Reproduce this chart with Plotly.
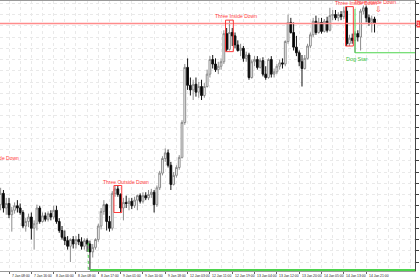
import plotly.graph_objects as go

# ---------------- data (H1 candles) ----------------
open_ = [
1.3051,1.3061,1.3048,1.3052,1.3042,1.3046,1.3050,1.3048,1.3044,1.3032,
1.3036,1.3040,1.3030,1.3034,1.3048,1.3036,1.3041,1.3038,1.3043,1.3040,
1.3046,1.3036,1.3028,1.3022,1.3019,1.3014,1.3020,1.3016,1.3020,1.3018,
1.3014,1.3019,1.3016,1.3009,1.3013,1.3020,1.3032,1.3045,1.3051,1.3036,
1.3030,1.3061,1.3065,1.3060,1.3048,1.3053,1.3052,1.3054,1.3050,1.3055,
1.3059,1.3054,1.3059,1.3057,1.3060,1.3062,1.3051,1.3066,1.3079,1.3092,
1.3097,1.3086,1.3069,1.3077,1.3084,1.3093,1.3124,1.3173,1.3157,1.3153,
1.3158,1.3151,1.3156,1.3148,1.3156,1.3167,1.3180,1.3176,1.3171,1.3174,
1.3178,1.3203,1.3189,1.3204,1.3201,1.3193,1.3188,1.3190,1.3181,1.3184,
1.3164,1.3178,1.3180,1.3173,1.3179,1.3167,1.3164,1.3180,1.3167,1.3169,
1.3174,1.3177,1.3176,1.3196,1.3213,1.3204,1.3191,1.3186,1.3178,1.3172,
1.3181,1.3192,1.3202,1.3214,1.3204,1.3213,1.3205,1.3214,1.3206,1.3219,
1.3220,1.3217,1.3220,1.3218,1.3223,1.3194,1.3199,1.3197,1.3203,1.3200,
1.3223,1.3226,1.3217,1.3213,1.3216]

high = [
1.3066,1.3064,1.3057,1.3057,1.3049,1.3053,1.3055,1.3052,1.3046,1.3039,
1.3043,1.3044,1.3037,1.3051,1.3050,1.3044,1.3044,1.3045,1.3046,1.3050,
1.3050,1.3039,1.3032,1.3028,1.3023,1.3021,1.3023,1.3023,1.3025,1.3022,
1.3021,1.3021,1.3019,1.3016,1.3021,1.3034,1.3048,1.3055,1.3052,1.3041,
1.3063,1.3068,1.3068,1.3061,1.3057,1.3059,1.3057,1.3057,1.3058,1.3060,
1.3061,1.3062,1.3062,1.3064,1.3065,1.3064,1.3068,1.3081,1.3094,1.3101,
1.3100,1.3089,1.3080,1.3086,1.3095,1.3126,1.3176,1.3181,1.3164,1.3162,
1.3164,1.3160,1.3162,1.3159,1.3171,1.3183,1.3184,1.3181,1.3178,1.3181,
1.3206,1.3208,1.3215,1.3208,1.3204,1.3197,1.3194,1.3192,1.3187,1.3186,
1.3180,1.3183,1.3183,1.3181,1.3182,1.3174,1.3181,1.3183,1.3172,1.3176,
1.3180,1.3181,1.3197,1.3220,1.3217,1.3213,1.3201,1.3188,1.3184,1.3184,
1.3194,1.3204,1.3217,1.3219,1.3217,1.3217,1.3216,1.3218,1.3226,1.3224,
1.3224,1.3222,1.3223,1.3227,1.3227,1.3202,1.3203,1.3205,1.3206,1.3225,
1.3228,1.3228,1.3220,1.3219,1.3218]

low = [
1.3046,1.3044,1.3042,1.3039,1.3027,1.3043,1.3044,1.3042,1.3030,1.3027,
1.3031,1.3020,1.3011,1.3028,1.3034,1.3035,1.3036,1.3036,1.3037,1.3038,
1.3034,1.3026,1.3020,1.3015,1.3011,1.3000,1.3012,1.3012,1.3015,1.3011,
1.3011,1.3009,1.2993,1.3004,1.3011,1.3018,1.3029,1.3042,1.3028,1.3027,
1.3028,1.3058,1.3058,1.3044,1.3037,1.3048,1.3046,1.3047,1.3048,1.3046,
1.3052,1.3052,1.3055,1.3055,1.3057,1.3044,1.3049,1.3064,1.3077,1.3089,
1.3084,1.3064,1.3068,1.3075,1.3082,1.3092,1.3122,1.3153,1.3148,1.3144,
1.3147,1.3146,1.3144,1.3146,1.3155,1.3164,1.3172,1.3169,1.3167,1.3171,
1.3176,1.3187,1.3188,1.3192,1.3190,1.3187,1.3183,1.3178,1.3178,1.3162,
1.3163,1.3174,1.3171,1.3172,1.3165,1.3162,1.3163,1.3164,1.3164,1.3167,
1.3171,1.3172,1.3174,1.3194,1.3203,1.3188,1.3183,1.3174,1.3156,1.3171,
1.3180,1.3190,1.3200,1.3202,1.3203,1.3203,1.3204,1.3204,1.3205,1.3215,
1.3215,1.3214,1.3215,1.3216,1.3192,1.3192,1.3194,1.3186,1.3196,1.3188,
1.3220,1.3213,1.3210,1.3204,1.3204]

close = [
1.3061,1.3048,1.3052,1.3042,1.3046,1.3050,1.3048,1.3044,1.3032,1.3036,
1.3040,1.3030,1.3034,1.3048,1.3036,1.3041,1.3038,1.3043,1.3040,1.3046,
1.3036,1.3028,1.3022,1.3019,1.3014,1.3020,1.3016,1.3020,1.3018,1.3014,
1.3019,1.3016,1.3009,1.3013,1.3020,1.3032,1.3045,1.3051,1.3036,1.3030,
1.3061,1.3065,1.3060,1.3048,1.3053,1.3052,1.3054,1.3050,1.3055,1.3059,
1.3054,1.3059,1.3057,1.3060,1.3062,1.3051,1.3066,1.3079,1.3092,1.3097,
1.3086,1.3069,1.3077,1.3084,1.3093,1.3124,1.3173,1.3157,1.3153,1.3158,
1.3151,1.3156,1.3148,1.3156,1.3167,1.3180,1.3176,1.3171,1.3174,1.3178,
1.3203,1.3189,1.3204,1.3201,1.3193,1.3188,1.3190,1.3181,1.3184,1.3164,
1.3178,1.3180,1.3173,1.3179,1.3167,1.3164,1.3180,1.3167,1.3169,1.3174,
1.3177,1.3176,1.3196,1.3213,1.3204,1.3191,1.3186,1.3178,1.3172,1.3181,
1.3192,1.3202,1.3214,1.3204,1.3213,1.3205,1.3214,1.3206,1.3219,1.3220,
1.3217,1.3220,1.3218,1.3223,1.3194,1.3199,1.3197,1.3203,1.3200,1.3223,
1.3226,1.3217,1.3213,1.3216,1.3212]

tick_bars = [3, 11, 19, 27, 35, 43, 51, 59, 67, 75, 83, 91, 99, 107, 115, 123, 131]
tick_labels = ["7 Jan 08:00", "7 Jan 16:00", "8 Jan 00:00", "8 Jan 08:00", "8 Jan 17:00",
               "9 Jan 01:00", "9 Jan 10:00", "9 Jan 18:00", "12 Jan 03:00", "12 Jan 11:00",
               "12 Jan 19:00", "13 Jan 04:00", "13 Jan 12:00", "13 Jan 20:00", "14 Jan 05:00",
               "14 Jan 13:00", "14 Jan 21:00"]

# candle patterns: (name, first bar, last bar)
patterns = [("Three Outside Down", 41, 43),
            ("Three Inside Down", 81, 83),
            ("Three Inside Down", 124, 126)]
extra_label_bar = 126          # second, overlapping label at the top right
offscreen_label = ("Three Outside Down", 7.2, 1.3088)   # pattern left of the view
dog_star_bar = 127
support_bar = 32

# ---------------- figure ----------------
n = len(close)
bars = list(range(n))
XMIN, XMAX = -0.23, 148.5
RED = "#ff3b3b"
GREEN = "#4cd44c"
GRID = "#e9e9e9"
FONT = "Liberation Sans, Arial"

fig = go.Figure()
# current (bid) price line, drawn first so the candles sit on top
fig.add_trace(go.Scatter(x=[XMIN, XMAX], y=[close[-1], close[-1]], mode="lines",
                         line=dict(color="#ff8c8c", width=1.3), hoverinfo="skip"))
fig.add_trace(go.Candlestick(
    x=bars, open=open_, high=high, low=low, close=close,
    increasing=dict(line=dict(color="#8c8c8c", width=1), fillcolor="#ffffff"),
    decreasing=dict(line=dict(color="#111111", width=1), fillcolor="#000000"),
    whiskerwidth=0, hoverinfo="skip"))

shapes, annos = [], []
lab_font = dict(family=FONT, size=5, color=RED)

for name, a, b in patterns:
    top = max(high[a:b + 1]); bot = min(low[a:b + 1])
    shapes.append(dict(type="rect", xref="x", yref="y", x0=a - 0.4, x1=b + 0.4,
                       y0=bot, y1=top, line=dict(color=RED, width=1), layer="above"))
    annos.append(dict(x=a - 5, y=top, xref="x", yref="y", text=name, showarrow=False,
                      xanchor="left", yanchor="bottom", font=lab_font, yshift=-1))

annos.append(dict(x=extra_label_bar, y=max(high[extra_label_bar + 3:extra_label_bar + 6]),
                  xref="x", yref="y", text="Three Inside Down", showarrow=False,
                  xanchor="left", yanchor="bottom", font=lab_font, yshift=-2))
annos.append(dict(x=offscreen_label[1], y=offscreen_label[2], xref="x", yref="y",
                  text=offscreen_label[0], showarrow=False, xanchor="right",
                  yanchor="bottom", font=lab_font))

# x-axis time labels, left-aligned at their tick
for b, t in zip(tick_bars, tick_labels):
    annos.append(dict(x=b, y=0, xref="x", yref="paper", text=t, showarrow=False,
                      xanchor="left", yanchor="top", xshift=0.5, yshift=-1,
                      font=dict(family=FONT, size=3.4, color="#222")))

annos.append(dict(x=1, y=close[-1], xref="paper", yref="y", text="%.4f" % close[-1],
                  showarrow=False, xanchor="left", bgcolor=RED,
                  font=dict(size=5, color="white"), borderpad=0, xshift=1))
# sell arrow after last bar
annos.append(dict(x=n + 0.3, y=high[-1], xref="x", yref="y", text="⇩", showarrow=False,
                  yanchor="bottom", font=dict(size=8, color=RED), yshift=1))

# Dog Star level
ds_low = low[dog_star_bar]
ds_top = max(high[dog_star_bar:dog_star_bar + 3])
shapes.append(dict(type="line", xref="x", yref="y", x0=dog_star_bar, x1=dog_star_bar,
                   y0=ds_low, y1=ds_top, line=dict(color=GREEN, width=1), layer="above"))
shapes.append(dict(type="line", xref="x", yref="y", x0=dog_star_bar, x1=XMAX,
                   y0=ds_low, y1=ds_low, line=dict(color=GREEN, width=1), layer="above"))
annos.append(dict(x=dog_star_bar + 0.8, y=ds_low, xref="x", yref="y", text="Dog Star",
                  showarrow=False, yanchor="top",
                  font=dict(family=FONT, size=5.5, color="#3cbf3c"), yshift=-1))

# support level at the lowest low
s_low = low[support_bar]
shapes.append(dict(type="line", xref="x", yref="y", x0=support_bar - 0.6, x1=support_bar - 0.6,
                   y0=s_low, y1=high[support_bar], line=dict(color=GREEN, width=1, dash="dot"),
                   layer="above"))
shapes.append(dict(type="line", xref="x", yref="y", x0=support_bar, x1=XMAX,
                   y0=s_low, y1=s_low, line=dict(color=GREEN, width=2), layer="above"))

minor_bars = list(range(-1, 150, 4))

fig.update_layout(
    width=420, height=280,
    margin=dict(l=0, r=5, t=1, b=9, autoexpand=False),
    plot_bgcolor="white", paper_bgcolor="white", showlegend=False,
    font=dict(family=FONT, color="#222"),
    boxgap=0.1,
    shapes=shapes, annotations=annos,
    xaxis=dict(range=[XMIN, XMAX], rangeslider=dict(visible=False),
               tickmode="array", tickvals=tick_bars, ticktext=tick_labels,
               showticklabels=False, ticks="outside", ticklen=2, tickcolor="#666",
               showgrid=True, gridcolor=GRID, griddash="dot", gridwidth=1,
               minor=dict(tickvals=minor_bars, showgrid=True, gridcolor=GRID, griddash="dot"),
               showline=True, linecolor="#999", linewidth=1, mirror=True,
               zeroline=False, automargin=False, fixedrange=True),
    yaxis=dict(side="right", range=[1.2992, 1.3232], tick0=1.3, dtick=0.001,
               tickformat=".4f", ticks="outside", ticklen=3, tickcolor="#444",
               tickfont=dict(size=5, color="#333"),
               showgrid=True, gridcolor=GRID, griddash="dot", gridwidth=1,
               showline=True, linecolor="#444", linewidth=1,
               zeroline=False, automargin=False, fixedrange=True),
)

fig.write_html("out.html", config={"displayModeBar": False})
